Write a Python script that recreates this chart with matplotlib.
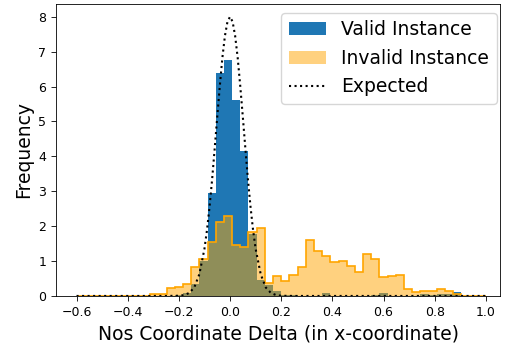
import numpy as np
import matplotlib
matplotlib.use("Agg")
import matplotlib.pyplot as plt

# bin edges: 50 bins from -0.6 to 1.0
bin_edges = np.linspace(-0.6, 1.0, 51)

# density per bin
valid_density = [
    0, 0, 0, 0, 0, 0, 0, 0, 0, 0,
    0, 0, 0.03, 0.08, 0.35, 1.0, 2.95, 6.39, 6.75, 5.61,
    4.14, 1.78, 0.47, 0.32, 0.13, 0.04, 0.02, 0.01, 0.01, 0.01,
    0.08, 0.01, 0.01, 0.01, 0.01, 0.01, 0.02, 0.08, 0.01, 0.01,
    0.01, 0.01, 0.05, 0.02, 0.05, 0.05, 0.10, 0, 0, 0,
]
invalid_density = [
    0, 0, 0, 0, 0, 0, 0, 0, 0, 0.05,
    0.06, 0.22, 0.27, 0.33, 0.84, 1.05, 1.56, 2.12, 2.30, 1.47,
    1.41, 1.82, 1.96, 0.36, 0.57, 0.44, 0.60, 0.84, 1.59, 1.30,
    1.15, 0.97, 1.01, 0.85, 0.70, 1.20, 1.05, 0.54, 0.58, 0.59,
    0.20, 0.11, 0.13, 0.14, 0.21, 0.15, 0.07, 0, 0, 0,
]

expected_x = [-0.6, -0.5, -0.4, -0.3, -0.25, -0.2, -0.18, -0.16, -0.14, -0.12,
              -0.10, -0.09, -0.08, -0.07, -0.06, -0.05, -0.04, -0.03, -0.02, -0.01,
              0.0, 0.01, 0.02, 0.03, 0.04, 0.05, 0.06, 0.07, 0.08, 0.09,
              0.10, 0.12, 0.14, 0.16, 0.18, 0.2, 0.25, 0.3, 0.4, 0.5,
              0.6, 0.7, 0.8, 0.9, 1.0]
expected_y = [0, 0, 0, 0, 0, 0.006, 0.025, 0.084, 0.24, 0.62,
              1.35, 1.89, 2.56, 3.34, 4.22, 5.13, 6.01, 6.82, 7.45, 7.86,
              8.0, 7.86, 7.45, 6.82, 6.01, 5.13, 4.22, 3.34, 2.56, 1.89,
              1.35, 0.62, 0.24, 0.084, 0.025, 0.006, 0, 0, 0, 0,
              0, 0, 0, 0, 0]

fig = plt.figure(figsize=(5.05, 3.49), dpi=100)
ax = fig.add_axes([0.111, 0.152, 0.879, 0.837])

ax.stairs(valid_density, bin_edges, fill=True, color="#1f77b4",
          label="Valid Instance")
ax.stairs(invalid_density, bin_edges, fill=True, color="orange", alpha=0.5,
          linewidth=0, label="Invalid Instance")
ax.stairs(invalid_density, bin_edges, fill=False, color="orange",
          linewidth=1.2)
ax.plot(expected_x, expected_y, color="black", linestyle=":", linewidth=1.5,
        label="Expected")

ax.set_xlim(-0.68, 1.055)
ax.set_ylim(0, 8.37)
ax.set_xticks([-0.6, -0.4, -0.2, 0.0, 0.2, 0.4, 0.6, 0.8, 1.0])
ax.set_yticks(range(0, 9))
ax.tick_params(labelsize=9, width=0.6, length=3.5)
for s in ax.spines.values():
    s.set_linewidth(0.6)

ax.set_xlabel("Nos Coordinate Delta (in x-coordinate)", fontsize=13.5)
ax.set_ylabel("Frequency", fontsize=13.5)

ax.legend(loc="upper right", bbox_to_anchor=(0.993, 0.969),
          borderaxespad=0, fontsize=13.5)

fig.savefig("out.png", dpi=100)
